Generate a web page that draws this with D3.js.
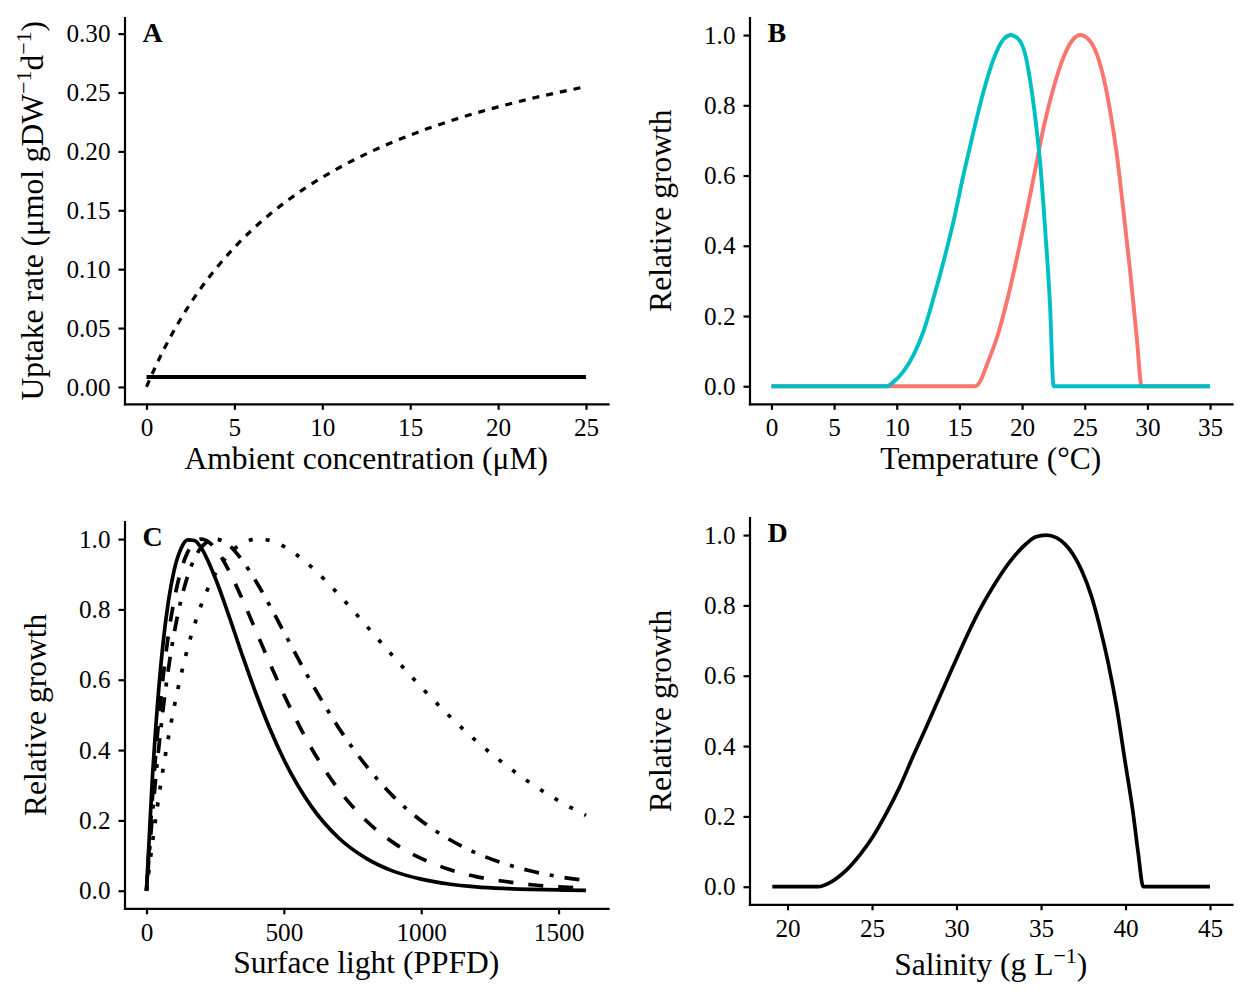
<!DOCTYPE html>
<html>
<head>
<meta charset="utf-8">
<script src="https://cdn.jsdelivr.net/npm/d3@7"></script>
<style>
  body { margin: 0; background: #fff; }
  text { font-family: "Liberation Serif", "Times New Roman", serif; fill: #000; }
  .axis path, .axis line { stroke: #000; stroke-width: 2.2; }
  .axis path { stroke-linecap: square; }
  .axis text { font-size: 25.2px; }
</style>
</head>
<body>
<div id="chart-area"></div>
<script>
// A: uptake vs ambient concentration
var concX = [0, 0.5, 1, 2, 3, 4, 5, 6, 7, 8, 9, 10, 12, 14, 16, 18, 20, 22, 25];
var uptakeCurve = [0, 0.0169, 0.0322, 0.0591, 0.0819, 0.1014, 0.1184, 0.1333, 0.1464, 0.1581, 0.1686, 0.1780, 0.1943, 0.2079, 0.2194, 0.2293, 0.2378, 0.2453, 0.2550];
var concFlatX = [0, 25];
var uptakeFlat = [0.0085, 0.0085];

// B: temperature response, two species
var tempTeal = [0, 9.2, 9.75, 10.55, 11.35, 12.14, 12.94, 13.74, 14.53, 15.33, 16.13, 16.93, 17.72, 18.52, 19.11, 19.72, 20.25, 20.65, 21.05, 21.45, 21.85, 22.24, 22.51, 35];
var growthTeal = [0, 0, 0.0125, 0.043, 0.090, 0.157, 0.252, 0.356, 0.470, 0.603, 0.726, 0.840, 0.931, 0.988, 1.0, 0.988, 0.945, 0.869, 0.765, 0.632, 0.442, 0.224, 0, 0];
var tempSalmon = [0, 16.26, 16.66, 17.2, 17.99, 18.79, 19.59, 20.39, 21.18, 21.71, 22.51, 23.3, 23.97, 24.64, 25.3, 25.97, 26.5, 27.03, 27.56, 28.09, 28.62, 29.15, 29.55, 35];
var growthSalmon = [0, 0, 0.014, 0.062, 0.138, 0.242, 0.366, 0.499, 0.641, 0.736, 0.850, 0.936, 0.983, 1.0, 0.988, 0.945, 0.879, 0.783, 0.660, 0.499, 0.328, 0.138, 0, 0];

// C: light response, four curves
var lightX = [0, 20, 40, 60, 80, 100, 125, 150, 175, 200, 250, 300, 350, 400, 450, 500, 600, 700, 800, 900, 1000, 1100, 1200, 1300, 1400, 1500, 1600];
var lightSolid = [0, 0.300, 0.529, 0.701, 0.824, 0.909, 0.972, 0.998, 0.996, 0.974, 0.890, 0.782, 0.667, 0.558, 0.459, 0.373, 0.240, 0.150, 0.092, 0.055, 0.033, 0.019, 0.011, 0.0065, 0.0038, 0.0022, 0.0012];
var lightDashed = [0, 0.246, 0.445, 0.604, 0.729, 0.824, 0.909, 0.963, 0.992, 1.0, 0.974, 0.910, 0.827, 0.736, 0.645, 0.558, 0.406, 0.287, 0.199, 0.136, 0.092, 0.061, 0.040, 0.027, 0.017, 0.011, 0.007];
var lightDotdash = [0, 0.201, 0.371, 0.513, 0.632, 0.729, 0.824, 0.895, 0.945, 0.977, 1.0, 0.983, 0.938, 0.878, 0.809, 0.736, 0.592, 0.463, 0.355, 0.267, 0.199, 0.147, 0.107, 0.078, 0.056, 0.040, 0.029];
var lightDotted = [0, 0.126, 0.241, 0.344, 0.436, 0.520, 0.611, 0.690, 0.757, 0.814, 0.901, 0.957, 0.988, 1.0, 0.996, 0.979, 0.921, 0.842, 0.754, 0.665, 0.579, 0.499, 0.426, 0.362, 0.305, 0.256, 0.214];

// D: salinity response
var salinityX = [19.1, 21.8, 22.59, 23.48, 24.27, 25.05, 25.85, 26.64, 27.42, 28.22, 29.0, 29.79, 30.59, 31.37, 32.16, 33.15, 34.14, 34.7, 35.3, 35.9, 36.4, 36.9, 37.4, 37.99, 38.48, 38.98, 39.47, 39.96, 40.45, 40.75, 41.05, 45];
var growthSalinity = [0, 0, 0.014, 0.047, 0.090, 0.142, 0.209, 0.284, 0.370, 0.455, 0.540, 0.626, 0.711, 0.787, 0.853, 0.924, 0.976, 0.995, 1.0, 0.993, 0.975, 0.945, 0.900, 0.825, 0.739, 0.635, 0.512, 0.360, 0.209, 0.095, 0, 0];

// tick values
var ticksA_x = [0, 5, 10, 15, 20, 25];
var ticksA_y = [0, 0.05, 0.10, 0.15, 0.20, 0.25, 0.30];
var ticksB_x = [0, 5, 10, 15, 20, 25, 30, 35];
var ticksC_x = [0, 500, 1000, 1500];
var ticksD_x = [20, 25, 30, 35, 40, 45];
var ticksGrowth = [0, 0.2, 0.4, 0.6, 0.8, 1.0];

var svg = d3.select("#chart-area").append("svg")
    .attr("width", 1248)
    .attr("height", 1008);

svg.append("rect").attr("width", 1248).attr("height", 1008).attr("fill", "#fff");

function zip(xs, ys) {
    return xs.map(function(d, i) { return {x: d, y: ys[i]}; });
}

function makePanel(p) {
    var g = svg.append("g");
    var x = d3.scaleLinear().domain(p.xDomain).range([p.left, p.right]);
    var y = d3.scaleLinear().domain(p.yDomain).range([p.bottom, p.top]);

    g.append("g")
        .attr("class", "axis")
        .attr("transform", "translate(0," + p.bottom + ")")
        .call(d3.axisBottom(x).tickValues(p.xTicks).tickFormat(p.xFormat)
            .tickSize(6).tickSizeOuter(0).tickPadding(8.5));
    g.append("g")
        .attr("class", "axis")
        .attr("transform", "translate(" + p.left + ",0)")
        .call(d3.axisLeft(y).tickValues(p.yTicks).tickFormat(p.yFormat)
            .tickSize(6).tickSizeOuter(0).tickPadding(8));
    g.selectAll(".axis text").attr("fill", "#000");

    // panel letter
    g.append("text")
        .attr("x", p.left + 18)
        .attr("y", p.top + 24)
        .attr("font-size", "28px")
        .attr("font-weight", "bold")
        .text(p.letter);

    // x title
    var xt = g.append("text")
        .attr("x", (p.left + p.right) / 2)
        .attr("y", p.xTitleY)
        .attr("font-size", "31.5px")
        .attr("text-anchor", "middle");
    addParts(xt, p.xTitle);

    // y title
    var yt = g.append("text")
        .attr("transform", "translate(" + p.yTitleX + "," + ((p.top + p.bottom) / 2) + ") rotate(-90)")
        .attr("font-size", "31.5px")
        .attr("text-anchor", "middle");
    addParts(yt, p.yTitle);

    return {g: g, x: x, y: y};
}

// parts: strings, or {sup: "..."} for superscripts
function addParts(el, parts) {
    var shift = 0;
    parts.forEach(function(part) {
        if (typeof part === "string") {
            el.append("tspan").attr("dy", -shift).text(part);
            shift = 0;
        } else {
            el.append("tspan").attr("dy", -12 - shift)
                .attr("font-size", "22px").text(part.sup);
            shift = -12;
        }
    });
}

function drawLine(panel, data, opts) {
    var line = d3.line()
        .x(function(d) { return panel.x(d.x); })
        .y(function(d) { return panel.y(d.y); })
        .curve(d3.curveMonotoneX);
    panel.g.append("path")
        .datum(data)
        .attr("d", line)
        .attr("fill", "none")
        .attr("stroke", opts.color || "#000")
        .attr("stroke-width", opts.width || 3.7)
        .attr("stroke-dasharray", opts.dash || null)
        .attr("stroke-linejoin", "round");
}

var f2 = d3.format(".2f"), f1 = d3.format(".1f"), f0 = d3.format("d");

// Panel A
var pA = makePanel({
    letter: "A", left: 124.5, right: 608, top: 17.5, bottom: 403.8,
    xDomain: [-1.25, 26.25], yDomain: [-0.0143, 0.3137],
    xTicks: ticksA_x, yTicks: ticksA_y, xFormat: f0, yFormat: f2,
    xTitleY: 468.5, yTitleX: 43,
    xTitle: ["Ambient concentration (\u03bcM)"],
    yTitle: ["Uptake rate (\u03bcmol gDW", {sup: "\u22121"}, "d", {sup: "\u22121"}, ")"]
});
drawLine(pA, zip(concX, uptakeCurve), {width: 3.2, dash: "7,7"});
drawLine(pA, zip(concFlatX, uptakeFlat), {width: 3.9});

// Panel B
var pB = makePanel({
    letter: "B", left: 749.5, right: 1232, top: 17.5, bottom: 403.8,
    xDomain: [-1.75, 36.75], yDomain: [-0.05, 1.05],
    xTicks: ticksB_x, yTicks: ticksGrowth, xFormat: f0, yFormat: f1,
    xTitleY: 468.5, yTitleX: 671,
    xTitle: ["Temperature (\u00b0C)"],
    yTitle: ["Relative growth"]
});
drawLine(pB, zip(tempSalmon, growthSalmon), {color: "#F8766D", width: 3.9});
drawLine(pB, zip(tempTeal, growthTeal), {color: "#00BFC4", width: 3.9});

// Panel C
var pC = makePanel({
    letter: "C", left: 124.5, right: 608, top: 521.5, bottom: 908.3,
    xDomain: [-80, 1680], yDomain: [-0.05, 1.05],
    xTicks: ticksC_x, yTicks: ticksGrowth, xFormat: f0, yFormat: f1,
    xTitleY: 972.7, yTitleX: 46,
    xTitle: ["Surface light (PPFD)"],
    yTitle: ["Relative growth"]
});
drawLine(pC, zip(lightX, lightSolid), {});
drawLine(pC, zip(lightX, lightDashed), {dash: "15,15"});
drawLine(pC, zip(lightX, lightDotdash), {dash: "4,11,15,11"});
drawLine(pC, zip(lightX, lightDotted), {dash: "4,13"});

// Panel D
var pD = makePanel({
    letter: "D", left: 749.5, right: 1232, top: 517.5, bottom: 904.3,
    xDomain: [17.75, 46.3], yDomain: [-0.05, 1.05],
    xTicks: ticksD_x, yTicks: ticksGrowth, xFormat: f0, yFormat: f1,
    xTitleY: 975, yTitleX: 671,
    xTitle: ["Salinity (g L", {sup: "\u22121"}, ")"],
    yTitle: ["Relative growth"]
});
drawLine(pD, zip(salinityX, growthSalinity), {});
</script>
</body>
</html>
